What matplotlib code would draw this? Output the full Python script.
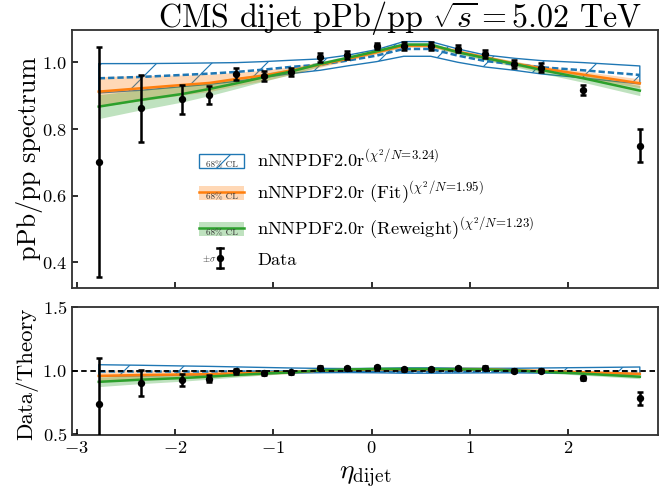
import matplotlib
matplotlib.use("Agg")
import matplotlib.pyplot as plt
from matplotlib.legend_handler import HandlerBase
from matplotlib.patches import Rectangle
from matplotlib.lines import Line2D
from matplotlib.text import Text
import numpy as np

plt.rcParams['font.family'] = 'serif'
plt.rcParams['font.serif'] = ['cmr10']
plt.rcParams['mathtext.fontset'] = 'cm'
plt.rcParams['axes.formatter.use_mathtext'] = True
plt.rcParams['hatch.linewidth'] = 0.5

# --- data ------------------------------------------------------------------
eta = [-2.775, -2.35, -1.925, -1.65, -1.375, -1.1, -0.825, -0.525, -0.25,
       0.05, 0.325, 0.6, 0.875, 1.15, 1.45, 1.725, 2.15, 2.725]
data = [0.702, 0.862, 0.889, 0.902, 0.964, 0.959, 0.972, 1.015, 1.022,
        1.049, 1.049, 1.049, 1.041, 1.026, 0.994, 0.984, 0.917, 0.750]
data_err = [0.345, 0.100, 0.043, 0.027, 0.018, 0.014, 0.012, 0.013, 0.012,
            0.010, 0.012, 0.012, 0.010, 0.012, 0.012, 0.013, 0.014, 0.050]

prior = [0.952, 0.956, 0.962, 0.966, 0.971, 0.978, 0.986, 0.993, 1.005,
         1.020, 1.040, 1.040, 1.020, 1.004, 0.994, 0.985, 0.976, 0.962]
prior_err = [0.044, 0.040, 0.035, 0.032, 0.028, 0.024, 0.020, 0.017, 0.016,
             0.018, 0.022, 0.022, 0.020, 0.018, 0.018, 0.020, 0.023, 0.027]

fit = [0.912, 0.922, 0.932, 0.938, 0.950, 0.960, 0.975, 0.993, 1.010,
       1.030, 1.050, 1.050, 1.032, 1.015, 0.996, 0.982, 0.963, 0.937]
fit_err = [0.045, 0.038, 0.030, 0.026, 0.020, 0.016, 0.012, 0.008, 0.006,
           0.005, 0.005, 0.005, 0.005, 0.006, 0.007, 0.008, 0.010, 0.013]

rw = [0.867, 0.887, 0.905, 0.920, 0.937, 0.955, 0.972, 0.995, 1.013,
      1.033, 1.053, 1.053, 1.030, 1.013, 0.995, 0.977, 0.952, 0.915]
rw_err = [0.036, 0.030, 0.024, 0.020, 0.016, 0.012, 0.009, 0.007, 0.006,
          0.006, 0.006, 0.006, 0.006, 0.007, 0.008, 0.010, 0.012, 0.015]

labels = [r'nNNPDF2.0r$^{(\chi^2/N\!=\!3.24)}$',
          r'nNNPDF2.0r (Fit)$^{(\chi^2/N\!=\!1.95)}$',
          r'nNNPDF2.0r (Reweight)$^{(\chi^2/N\!=\!1.23)}$',
          'Data']

C0, C1, C2 = '#1f77b4', '#ff7f0e', '#2ca02c'


class BandHandler(HandlerBase):
    def __init__(self, color, hatch=None):
        super().__init__()
        self.color = color
        self.hatch = hatch

    def create_artists(self, legend, orig_handle, xdescent, ydescent,
                       width, height, fontsize, trans):
        x0, y0 = -xdescent, -ydescent
        arts = []
        if self.hatch:
            arts.append(Rectangle((x0, y0), width, height, facecolor='none',
                                  edgecolor=self.color, hatch=self.hatch,
                                  lw=0.6, transform=trans))
        else:
            arts.append(Rectangle((x0, y0), width, height, facecolor=self.color,
                                  alpha=0.3, edgecolor='none', transform=trans))
            arts.append(Line2D([x0, x0 + width], [y0 + 0.55 * height] * 2,
                               color=self.color, lw=1.1, transform=trans))
        arts.append(Text(x0 + width / 2, y0 + 0.22 * height, '68% CL',
                         fontsize=fontsize * 0.5, ha='center', va='center',
                         color='#333333', transform=trans))
        return arts


class DataHandler(HandlerBase):
    def create_artists(self, legend, orig_handle, xdescent, ydescent,
                       width, height, fontsize, trans):
        x0, y0 = -xdescent, -ydescent
        xc = x0 + 0.46 * width
        yc = y0 + height / 2
        h = height * 0.75
        arts = [Line2D([xc, xc], [yc - h, yc + h], color='k', lw=1.1, transform=trans),
                Line2D([xc - 1.3, xc + 1.3], [yc - h] * 2, color='k', lw=1.1, transform=trans),
                Line2D([xc - 1.3, xc + 1.3], [yc + h] * 2, color='k', lw=1.1, transform=trans),
                Line2D([xc], [yc], marker='o', ms=2.2, color='k', transform=trans),
                Text(x0 + 0.22 * width, yc, r'$\pm\sigma$', fontsize=fontsize * 0.5,
                     ha='center', va='center', color='#333333', transform=trans)]
        return arts


x = np.array(eta)
d = np.array(data)
de = np.array(data_err)
p, pe = np.array(prior), np.array(prior_err)
f, fe = np.array(fit), np.array(fit_err)
r, re_ = np.array(rw), np.array(rw_err)

fig = plt.figure(figsize=(4.0, 2.97), dpi=165)
ax = fig.add_axes([0.1086, 0.4129, 0.8884, 0.5259])
axr = fig.add_axes([0.1086, 0.1122, 0.8884, 0.2618], sharex=ax)


def draw(a, norm):
    a.fill_between(x, (p - pe) / norm, (p + pe) / norm, facecolor='none',
                   edgecolor=C0, hatch='/', lw=0.6, zorder=1)
    a.plot(x, p / norm, color=C0, ls=(0, (2.5, 1.2)), lw=1.1, zorder=2)
    a.fill_between(x, (f - fe) / norm, (f + fe) / norm, color=C1, alpha=0.3,
                   lw=0, zorder=1)
    a.plot(x, f / norm, color=C1, lw=1.1, zorder=3)
    a.fill_between(x, (r - re_) / norm, (r + re_) / norm, color=C2, alpha=0.3,
                   lw=0, zorder=1)
    a.plot(x, r / norm, color=C2, lw=1.1, zorder=4)
    a.errorbar(x, d / norm, yerr=de / norm, fmt='o', color='k', ms=2.2,
               lw=1.1, capsize=1.3, capthick=1.1, zorder=5)


draw(ax, 1.0)
draw(axr, p)
axr.axhline(1.0, color='k', ls=(0, (3, 2)), lw=0.8, zorder=6)

ax.set_xlim(-3.05, 2.91)
ax.set_ylim(0.324, 1.097)
axr.set_ylim(0.49, 1.505)
ax.set_xticks([-3, -2, -1, 0, 1, 2])
ax.set_yticks([0.4, 0.6, 0.8, 1.0])
axr.set_yticks([0.5, 1.0, 1.5])
for a in (ax, axr):
    a.tick_params(direction='in', length=2.5, width=0.7, labelsize=8, pad=2)
    for s in a.spines.values():
        s.set_linewidth(0.8)
        s.set_color('#333333')
ax.tick_params(labelbottom=False)

ax.set_ylabel('pPb/pp spectrum', fontsize=11.5)
ax.yaxis.set_label_coords(-0.049, 0.5)
axr.set_ylabel('Data/Theory', fontsize=10)
axr.yaxis.set_label_coords(-0.057, 0.48)
axr.set_xlabel(r'$\eta_{\rm dijet}$', fontsize=12)
axr.xaxis.set_label_coords(0.5, -0.23)

ax.text(0.56, 1.013, r'CMS dijet pPb/pp $\sqrt{s}=5.02$ TeV', fontsize=14,
        ha='center', va='baseline', transform=ax.transAxes)

hs = [Rectangle((0, 0), 1, 1), Rectangle((0, 0), 1, 1),
      Rectangle((0, 0), 1, 1), Line2D([], [])]
hmap = {hs[0]: BandHandler(C0, hatch='/'), hs[1]: BandHandler(C1),
        hs[2]: BandHandler(C2), hs[3]: DataHandler()}
ax.legend(hs, labels, handler_map=hmap, loc='upper left',
          bbox_to_anchor=(0.218, 0.54), frameon=False, fontsize=8,
          handlelength=2.45, handleheight=0.75, handletextpad=0.7,
          labelspacing=0.5, borderpad=0, borderaxespad=0)

fig.savefig('out.png', dpi=165)
